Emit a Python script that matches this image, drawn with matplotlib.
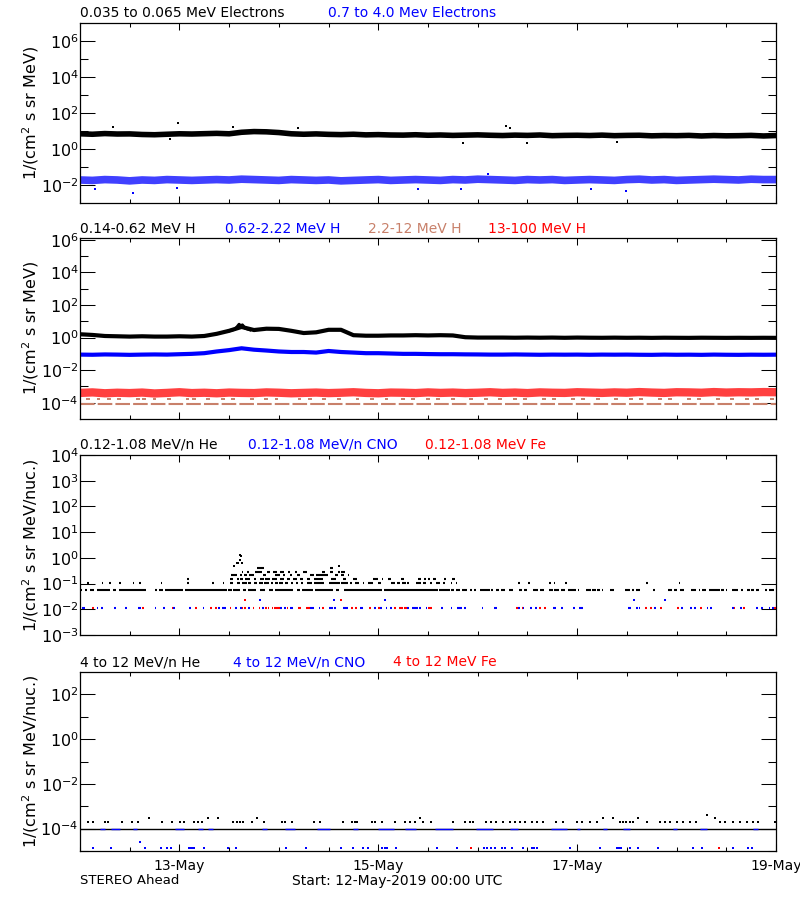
import numpy as np
import matplotlib
matplotlib.use("Agg")
import matplotlib.pyplot as plt
import matplotlib.dates as mdates
import matplotlib.ticker as mticker

START = np.datetime64("2019-05-12T00:00")
BROWN = "#c8806a"

# ---- data: hours since start, fluxes ----
HOURS3 = np.arange(0, 169, 3)   # 3-hourly band centres (57 values)

elec_lo = [7.0, 6.6, 7.2, 6.8, 6.9, 6.4, 6.2, 6.6, 7.0, 6.8,
           7.1, 7.4, 7.0, 8.5, 9.3, 9.0, 8.2, 7.0, 6.6, 6.9,
           6.5, 6.3, 6.6, 6.1, 6.3, 6.0, 5.9, 6.2, 5.8, 6.0,
           5.7, 5.9, 6.1, 5.8, 5.6, 5.9, 5.7, 6.0, 5.5, 5.7,
           5.8, 5.6, 5.9, 5.5, 5.7, 5.8, 5.4, 5.6, 5.5, 5.7,
           5.3, 5.6, 5.4, 5.5, 5.7, 5.3, 5.6]
elec_hi = [0.019, 0.018, 0.020, 0.019, 0.017, 0.019, 0.018, 0.020, 0.019, 0.018,
           0.019, 0.020, 0.019, 0.021, 0.020, 0.019, 0.018, 0.020, 0.019, 0.018,
           0.019, 0.017, 0.018, 0.019, 0.020, 0.018, 0.019, 0.020, 0.019, 0.018,
           0.020, 0.019, 0.021, 0.020, 0.019, 0.018, 0.020, 0.019, 0.020, 0.018,
           0.019, 0.020, 0.019, 0.018, 0.020, 0.021, 0.019, 0.020, 0.018, 0.019,
           0.020, 0.021, 0.020, 0.019, 0.021, 0.020, 0.020]
elec_lo_out_h = [8.0, 36.9, 52.6, 23.7, 102.8, 103.8, 21.7, 92.4, 107.8, 129.6]
elec_lo_out_v = [16.7, 16.7, 14.7, 27.8, 19.0, 15.0, 3.5, 2.2, 2.2, 2.5]
elec_hi_out_h = [12.8, 3.6, 23.4, 131.8, 81.6, 92.0, 123.4, 98.5]
elec_hi_out_v = [0.0036, 0.006, 0.0068, 0.0047, 0.006, 0.006, 0.006, 0.041]

h_low = [1.6, 1.45, 1.25, 1.2, 1.15, 1.2, 1.15, 1.15, 1.2, 1.15,
         1.25, 1.7, 2.6, 4.5, 2.9, 3.5, 3.4, 2.6, 1.9, 2.1,
         3.0, 3.0, 1.4, 1.3, 1.3, 1.35, 1.35, 1.4, 1.35, 1.4,
         1.35, 1.05, 1.0, 1.0, 1.0, 0.98, 1.0, 0.98, 1.0, 0.97,
         1.0, 0.98, 0.97, 0.99, 0.97, 0.98, 0.96, 0.98, 0.97, 0.96,
         0.98, 0.97, 0.96, 0.97, 0.96, 0.97, 0.96]
h_low_spike_h = [36.0, 37.3, 37.9, 38.4, 38.8, 39.2, 39.8, 41.0]
h_low_spike_v = [2.6, 3.2, 4.5, 6.5, 5.2, 6.0, 3.8, 3.0]
h_mid = [0.090, 0.088, 0.092, 0.090, 0.087, 0.090, 0.092, 0.090, 0.095, 0.100,
         0.110, 0.140, 0.170, 0.220, 0.180, 0.160, 0.140, 0.130, 0.130, 0.120,
         0.150, 0.130, 0.120, 0.110, 0.110, 0.105, 0.100, 0.100, 0.097, 0.095,
         0.095, 0.093, 0.092, 0.090, 0.090, 0.092, 0.090, 0.088, 0.090, 0.089,
         0.090, 0.088, 0.090, 0.089, 0.090, 0.088, 0.087, 0.090, 0.088, 0.089,
         0.087, 0.090, 0.088, 0.087, 0.089, 0.088, 0.089]
h_top = [4.0, 4.3, 3.8, 4.1, 3.9, 4.2, 3.7, 4.0, 4.4, 3.9,
         4.1, 3.8, 4.2, 4.0, 3.9, 4.3, 4.1, 3.8, 4.0, 4.2,
         3.9, 4.1, 4.4, 4.0, 3.8, 4.2, 4.1, 3.9, 4.3, 4.0,
         4.2, 3.9, 4.1, 4.4, 4.0, 4.2, 3.9, 4.3, 4.1, 4.0,
         4.4, 4.2, 4.0, 4.3, 4.1, 4.5, 4.2, 4.0, 4.4, 4.3,
         4.1, 4.5, 4.2, 4.4, 4.3, 4.5, 4.4]   # x 1e-4
h_brown_level = 8.7e-5
h_brown_up = 1.8e-4
h_brown_up_h = [1.5, 4.0, 6.5, 9.0, 13.5, 15.0, 17.5, 21.0, 25.5, 27.0,
                30.5, 34.0, 36.5, 41.0, 44.5, 47.0, 52.5, 55.0, 58.5, 62.0,
                66.5, 70.0, 73.5, 77.5, 80.0, 83.5, 86.0, 89.5, 94.0, 97.5,
                101.0, 104.5, 107.0, 111.5, 114.0, 118.5, 121.0, 124.5, 129.0, 132.5,
                135.0, 139.5, 142.0, 146.5, 149.0, 153.5, 157.0, 160.5, 163.0, 166.5]

# panel 3: quantised levels, (start, end) hours
he_levels = [0.054, 0.107, 0.155, 0.21, 0.29, 0.39]
he_segs = [
    [(0.2, 0.6), (1.1, 1.6), (2.4, 3.4), (4.2, 7.2), (8.0, 8.7), (9.5, 15.9), (18.1, 18.7),
     (19.1, 20.1), (20.6, 24.9), (25.4, 35.4), (35.8, 36.6), (37.0, 38.6), (39.3, 40.1),
     (40.6, 42.6), (43.5, 44.7), (45.5, 46.5), (47.1, 51.5), (52.3, 53.1), (53.5, 56.3),
     (56.7, 61.1), (61.9, 62.6), (63.7, 72.8), (73.4, 86.5), (86.7, 89.3), (89.5, 90.3),
     (90.7, 91.7), (92.3, 93.3), (94.1, 94.5), (95.1, 95.7), (96.5, 97.9), (98.1, 98.9),
     (99.3, 99.7), (100.3, 101.1), (101.6, 102.6), (103.5, 104.4), (106.0, 106.6),
     (107.1, 107.9), (109.4, 110.6), (111.0, 112.0), (113.1, 114.1), (114.4, 115.5),
     (116.1, 117.1), (117.9, 119.8), (120.1, 120.5), (122.2, 123.3), (123.7, 124.6),
     (124.9, 125.6), (126.0, 126.3), (128.0, 128.9), (131.6, 132.8), (133.3, 133.8),
     (134.2, 135.2), (138.3, 138.8), (141.9, 142.9), (143.3, 144.1), (144.9, 145.7),
     (147.5, 148.7), (149.3, 149.7), (150.1, 151.1), (151.9, 154.4), (154.7, 155.5),
     (155.9, 156.2), (157.4, 158.8), (159.6, 160.0), (161.0, 161.8), (162.0, 162.8),
     (163.2, 164.0), (165.4, 165.8), (166.2, 167.6)],
    [(1.8, 2.2), (5.2, 5.6), (7.1, 7.5), (9.5, 9.9), (12.7, 13.1), (14.3, 14.7), (19.5, 19.9),
     (25.9, 26.3), (31.9, 32.3), (34.4, 34.8), (36.2, 37.0), (37.8, 38.6), (39.2, 40.2),
     (40.6, 41.2), (41.9, 42.7), (43.1, 44.1), (44.5, 45.5), (46.0, 46.5), (47.1, 47.7),
     (48.1, 49.1), (49.5, 50.3), (51.0, 51.5), (52.2, 52.7), (53.3, 53.8), (54.9, 55.9),
     (56.4, 58.9), (60.1, 62.7), (63.1, 64.7), (65.1, 65.7), (66.4, 67.4), (68.2, 68.5),
     (69.6, 70.8), (72.0, 72.6), (75.0, 76.0), (76.4, 77.2), (77.8, 78.7), (79.0, 79.5),
     (81.2, 82.2), (82.9, 83.5), (84.5, 84.9), (85.9, 86.9), (87.7, 88.1), (89.5, 89.9),
     (90.7, 91.1), (105.8, 106.2), (108.2, 108.6), (113.3, 113.7), (114.3, 114.7),
     (117.1, 117.5), (136.7, 137.1), (144.5, 144.9)],
    [(25.8, 26.2), (36.2, 37.0), (37.8, 38.3), (38.6, 39.4), (39.8, 41.1), (41.9, 42.5),
     (43.5, 44.3), (44.7, 45.9), (46.3, 47.5), (48.3, 49.3), (49.9, 50.7), (51.5, 52.3),
     (53.1, 53.9), (54.7, 55.5), (56.4, 58.7), (60.7, 61.9), (63.4, 64.3), (65.8, 66.8),
     (70.8, 72.0), (72.8, 73.2), (74.4, 75.0), (77.6, 78.2), (81.6, 82.3), (83.0, 83.5),
     (84.1, 84.5), (85.3, 85.9), (87.8, 88.3), (89.9, 90.5)],
    [(36.5, 37.8), (38.5, 39.0), (39.6, 40.2), (40.9, 41.9), (44.1, 44.9), (47.1, 48.3),
     (49.1, 49.5), (50.6, 51.1), (52.3, 53.1), (55.5, 56.4), (57.0, 59.9), (61.5, 62.3),
     (62.9, 63.7), (64.7, 65.0)],
    [(39.0, 39.4), (40.2, 40.7), (42.3, 43.9), (45.1, 45.9), (46.7, 47.5), (48.3, 49.3),
     (50.1, 50.6), (51.9, 52.3), (53.8, 54.7), (58.5, 59.1), (60.3, 61.1), (62.3, 62.7),
     (63.1, 63.9)],
    [(42.7, 44.3), (60.3, 61.1)],
]
he_peak_h = [37.2, 37.8, 38.2, 38.5, 38.6, 38.8, 39.0, 62.5]
he_peak_v = [0.5, 0.64, 0.64, 0.86, 1.35, 1.15, 0.64, 0.5]

cno_level = 0.0112
cno_segs = [(0.4, 1.2), (4.2, 4.4), (5.0, 5.5), (8.2, 8.7), (9.3, 9.5), (10.9, 11.3), (14.1, 14.7),
            (18.1, 18.4), (20.0, 20.4), (22.5, 22.9), (26.4, 26.7), (29.6, 29.9), (33.4, 33.8),
            (34.2, 35.3), (37.4, 37.8), (38.6, 39.1), (40.6, 41.1), (43.9, 44.4), (48.3, 48.7),
            (49.3, 49.7), (50.7, 51.4), (55.5, 56.4), (57.6, 57.9), (60.1, 61.1), (61.3, 61.8),
            (63.4, 64.7), (67.7, 68.2), (70.9, 71.4), (72.4, 72.8), (73.8, 74.2), (74.8, 75.2),
            (79.0, 79.3), (80.1, 81.6), (81.9, 82.2), (83.5, 83.7), (87.1, 87.5), (89.5, 89.9),
            (91.1, 92.1), (92.7, 93.1), (97.0, 97.3), (99.9, 100.6), (105.7, 106.2),
            (106.8, 107.2), (108.6, 109.0), (109.8, 110.2), (114.1, 114.9), (116.1, 116.5),
            (119.0, 119.4), (120.5, 121.5), (132.3, 133.0), (134.3, 134.7), (134.9, 135.2),
            (138.6, 139.0), (145.1, 145.5), (147.3, 147.7), (148.3, 148.7), (151.3, 151.7),
            (152.1, 152.5), (157.4, 157.8), (159.4, 159.8), (163.2, 163.6), (164.4, 164.8),
            (166.2, 166.6), (167.0, 167.4)]
fe_segs = [(2.9, 3.4), (14.9, 15.5), (22.1, 22.5), (27.8, 28.2), (30.8, 31.0), (31.4, 31.8),
           (32.6, 33.0), (36.1, 36.4), (39.1, 39.4), (39.6, 40.0), (41.7, 42.1), (43.1, 43.5),
           (44.7, 45.1), (45.3, 45.6), (46.3, 46.7), (46.9, 48.3), (49.9, 50.3), (52.7, 53.3),
           (54.6, 55.5), (58.5, 59.0), (65.3, 65.8), (66.3, 66.8), (69.8, 70.2), (72.0, 72.4),
           (75.8, 76.3), (77.0, 77.9), (78.2, 79.0), (83.9, 84.9), (105.2, 105.7), (106.7, 107.0),
           (110.8, 111.2), (112.0, 112.4), (136.4, 136.8), (137.6, 138.0), (140.0, 140.5),
           (144.1, 144.5), (149.7, 150.1), (157.8, 158.2), (160.0, 160.4), (167.6, 168.0)]
cno_up_h = [43.5, 61.4, 73.6, 133.8, 141.3]
fe_up_h = [39.8, 62.9]
up_level = 0.023

# panel 4
he4_level = 1.0e-4
he4_up_h = [2.0, 3.2, 6.0, 6.8, 10.1, 12.5, 14.1, 19.7, 22.1, 24.2, 25.0, 27.4, 28.6, 29.4,
            37.0, 37.8, 38.6, 39.4, 41.5, 44.3, 48.7, 49.5, 51.1, 56.4, 58.0, 63.6, 65.6,
            66.4, 66.8, 70.4, 71.2, 72.9, 76.1, 78.5, 79.7, 80.9, 82.9, 84.8, 90.1, 92.9,
            94.1, 94.9, 98.1, 99.3, 100.5, 102.2, 103.8, 105.0, 106.2, 107.4, 109.0, 110.2,
            111.8, 115.0, 116.6, 119.9, 121.1, 123.1, 124.7, 130.3, 131.1, 131.9, 132.7,
            133.5, 136.8, 140.0, 141.2, 142.4, 144.0, 145.6, 147.2, 148.8, 154.5, 155.7,
            157.7, 159.3, 160.9, 162.5, 163.7, 167.8]
he4_up_v = 2.0e-4
he4_up2_h = [16.7, 31.0, 33.2, 42.7, 82.0, 126.3, 128.7, 134.8, 153.3]
he4_up2_v = 3.0e-4
he4_top_h = [151.3]
he4_top_v = [4.2e-4]
cno4_segs = [(4.8, 6.0), (7.6, 9.7), (12.9, 13.8), (22.9, 25.0), (28.6, 29.6), (31.0, 32.0),
             (43.9, 45.1), (49.5, 51.9), (57.2, 60.4), (66.0, 67.2), (72.0, 75.7), (78.4, 81.2),
             (85.7, 90.1), (95.7, 99.7), (103.8, 105.8), (113.8, 117.5), (119.9, 120.7),
             (126.3, 127.1), (131.1, 132.7), (143.2, 144.0), (149.7, 151.3), (162.5, 163.7)]
cno4_low = 1.3e-5
cno4_low_h = [3.2, 7.4, 15.7, 19.6, 20.9, 21.9, 26.2, 26.6, 27.0, 27.4, 30.0, 35.7, 37.6, 49.7,
              54.5, 62.9, 65.8, 68.4, 69.6, 72.9, 73.5, 74.1, 76.3, 86.1, 91.1, 97.5, 98.3,
              99.3, 100.1, 101.8, 102.6, 104.2, 107.0, 109.0, 109.6, 110.2, 118.3, 125.5,
              129.5, 130.1, 130.7, 132.7, 134.8, 139.6, 148.0, 150.1, 157.7, 161.3, 162.1]
cno4_mid_h = [14.5]
cno4_mid_v = [2.5e-5]
fe4_low_h = [94.3, 154.2]


def tnum(hours):
    return mdates.date2num(START) + np.asarray(hours, dtype=float) / 24.0


def segs(ax, level, seglist, color, lw=1.5):
    s = np.array(seglist)
    ax.hlines([level] * len(s), tnum(s[:, 0]), tnum(s[:, 1]), colors=color, lw=lw)


def dots(ax, hours, vals, color, ms=1.6):
    ax.plot(tnum(hours), np.broadcast_to(vals, np.shape(hours)), "s", color=color,
            ms=ms, mew=0, ls="none")


def style(ax, ylim, major, minor, bottom_labels=False):
    ax.set_yscale("log")
    ax.set_ylim(*ylim)
    ax.set_xlim(tnum(0), tnum(168))
    ax.set_yticks(major)
    ax.set_yticks(minor, minor=True)
    ax.yaxis.set_minor_formatter(mticker.NullFormatter())
    ax.xaxis_date()
    ax.xaxis.set_major_locator(mdates.DayLocator(bymonthday=[13, 15, 17, 19]))
    ax.xaxis.set_minor_locator(mdates.HourLocator(byhour=[0, 12]))
    ax.xaxis.set_major_formatter(mdates.DateFormatter("%d-%b"))
    if not bottom_labels:
        ax.xaxis.set_major_formatter(mticker.NullFormatter())
    ax.tick_params(axis="y", which="major", direction="in", length=11, width=0.75,
                   left=True, right=True, labelsize=11.5, pad=1)
    ax.tick_params(axis="y", which="minor", direction="in", length=5.5, width=0.75,
                   left=True, right=True)
    ax.tick_params(axis="x", which="major", direction="in", length=5, width=0.75,
                   top=True, bottom=True, labelsize=10, pad=6)
    ax.tick_params(axis="x", which="minor", direction="in", length=3, width=0.75,
                   top=True, bottom=True)
    for sp in ax.spines.values():
        sp.set_linewidth(0.9)
    ax.yaxis.set_label_coords(-0.056, 0.5)


fig = plt.figure(figsize=(8, 9), dpi=100)
W = 696 / 800
ax1 = fig.add_axes([0.1, 1 - 203 / 900, W, 180 / 900])
ax2 = fig.add_axes([0.1, 1 - 419 / 900, W, 181 / 900])
ax3 = fig.add_axes([0.1, 1 - 635 / 900, W, 180 / 900])
ax4 = fig.add_axes([0.1, 1 - 851 / 900, W, 179 / 900])

# panel 1: electrons
ax1.plot(tnum(HOURS3), elec_lo, color="black", lw=4.0)
ax1.plot(tnum(HOURS3), elec_hi, color="blue", lw=5.5, alpha=0.75)
dots(ax1, elec_lo_out_h, elec_lo_out_v, "black")
dots(ax1, elec_hi_out_h, elec_hi_out_v, "blue")
style(ax1, (1e-3, 1e7), [1e-2, 1e0, 1e2, 1e4, 1e6], [1e-1, 1e1, 1e3, 1e5])
ax1.set_ylabel("1/(cm$^2$ s sr MeV)", fontsize=11.5)

# panel 2: protons
ax2.plot(tnum([0, 168]), [h_brown_level, h_brown_level], color=BROWN, lw=1.5,
         ls=(0, (7, 1.5)))
segs(ax2, h_brown_up, [(h, h + 0.9) for h in h_brown_up_h], BROWN, lw=1.4)
ax2.plot(tnum(HOURS3), np.array(h_top) * 1e-4, color="red", lw=6.0, alpha=0.75)
ax2.plot(tnum(HOURS3), h_mid, color="blue", lw=3.0)
ax2.plot(tnum(HOURS3), h_low, color="black", lw=3.0)
ax2.plot(tnum(h_low_spike_h), h_low_spike_v, color="black", lw=2.2)
style(ax2, (1e-5, 1.3e6), [1e-4, 1e-2, 1e0, 1e2, 1e4, 1e6], [1e-3, 1e-1, 1e1, 1e3, 1e5])
ax2.set_ylabel("1/(cm$^2$ s sr MeV)", fontsize=11.5)

# panel 3: low energy heavy ions
for lev, sl in zip(he_levels, he_segs):
    segs(ax3, lev, sl, "black")
dots(ax3, he_peak_h, he_peak_v, "black", ms=2.0)
segs(ax3, cno_level, cno_segs, "blue")
segs(ax3, cno_level, fe_segs, "red")
dots(ax3, cno_up_h, up_level, "blue")
dots(ax3, fe_up_h, up_level, "red")
style(ax3, (1e-3, 1e4), [1e-3, 1e-2, 1e-1, 1e0, 1e1, 1e2, 1e3, 1e4], [])
ax3.set_ylabel("1/(cm$^2$ s sr MeV/nuc.)", fontsize=11.5)

# panel 4: high energy heavy ions
ax4.plot(tnum([0, 168]), [he4_level, he4_level], color="black", lw=1.0)
segs(ax4, he4_level, cno4_segs, "blue", lw=1.0)
dots(ax4, he4_up_h, he4_up_v, "black")
dots(ax4, he4_up2_h, he4_up2_v, "black")
dots(ax4, he4_top_h, he4_top_v, "black")
dots(ax4, cno4_low_h, cno4_low, "blue")
dots(ax4, cno4_mid_h, cno4_mid_v, "blue")
dots(ax4, fe4_low_h, cno4_low, "red")
style(ax4, (1e-5, 1e3), [1e-4, 1e-2, 1e0, 1e2], [1e-5, 1e-3, 1e-1, 1e1], bottom_labels=True)
ax4.set_ylabel("1/(cm$^2$ s sr MeV/nuc.)", fontsize=11.5)


# panel headers
def header(y, items):
    for x, txt, col in items:
        fig.text(x / 800, 1 - y / 900, txt, color=col, fontsize=10, va="center", ha="left")


header(13, [(80, "0.035 to 0.065 MeV Electrons", "black"),
            (328, "0.7 to 4.0 Mev Electrons", "blue")])
header(229, [(80, "0.14-0.62 MeV H", "black"), (225, "0.62-2.22 MeV H", "blue"),
             (368, "2.2-12 MeV H", BROWN), (488, "13-100 MeV H", "red")])
header(445, [(80, "0.12-1.08 MeV/n He", "black"), (248, "0.12-1.08 MeV/n CNO", "blue"),
             (425, "0.12-1.08 MeV Fe", "red")])
header(662, [(80, "4 to 12 MeV/n He", "black"), (233, "4 to 12 MeV/n CNO", "blue"),
             (393, "4 to 12 MeV Fe", "red")])

fig.text(80 / 800, 1 - 881 / 900, "STEREO Ahead", fontsize=9.5, va="center")
fig.text(292 / 800, 1 - 881 / 900, "Start: 12-May-2019 00:00 UTC", fontsize=10, va="center")

fig.savefig("out.png", dpi=100)
